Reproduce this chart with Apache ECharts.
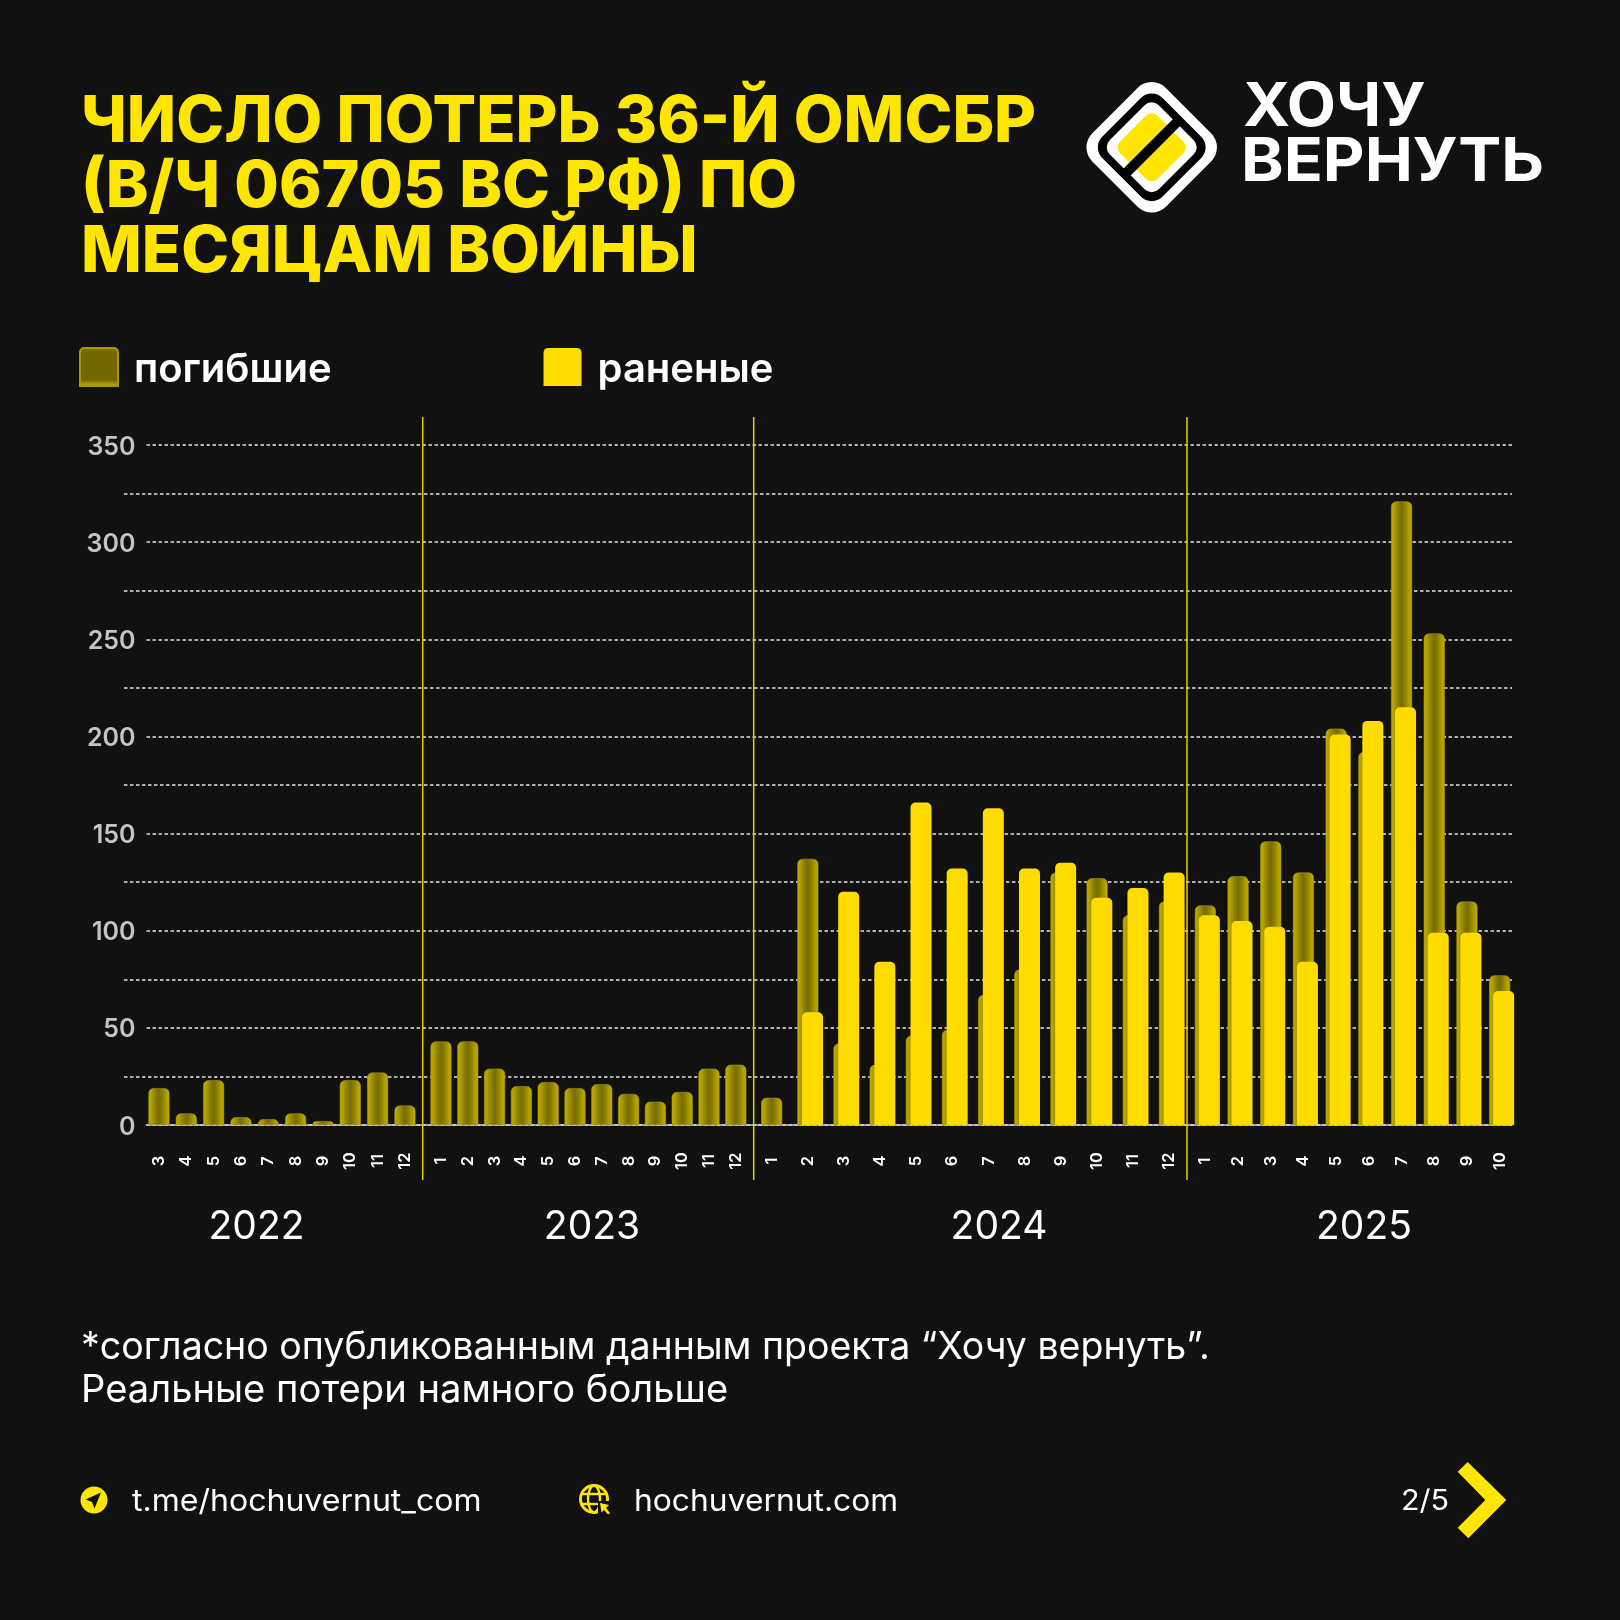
<!DOCTYPE html>
<html lang="ru">
<head>
<meta charset="utf-8">
<style>html,body{margin:0;padding:0;background:#111111}#c{width:1620px;height:1620px}</style>
<script src="https://cdn.jsdelivr.net/npm/echarts@6/dist/echarts.min.js"></script>
</head>
<body>
<div id="c"></div>
<script>
const months2022 = ['3','4','5','6','7','8','9','10','11','12'];
const months2023 = ['1','2','3','4','5','6','7','8','9','10','11','12'];
const months2024 = ['1','2','3','4','5','6','7','8','9','10','11','12'];
const months2025 = ['1','2','3','4','5','6','7','8','9','10'];

const killed2022 = [19,6,23,4,3,6,2,23,27,10];
const killed2023 = [43,43,29,20,22,19,21,16,12,17,29,31];
const killed2024 = [14,137,42,31,46,49,67,80,130,127,108,115];
const killed2025 = [113,128,146,130,204,192,321,253,115,77];

const wounded2024 = [null,58,120,84,166,132,163,132,135,117,122,130];
const wounded2025 = [108,105,102,84,201,208,215,99,99,69];

const yearLabels = ['2022','2023','2024','2025'];
const seriesNames = ['погибшие','раненые'];

const FONT = 'Inter';
const BG = '#111111';
const YEL = '#FFDB00';
const PLOT_TOP = 445, PLOT_H = 680;

const darkFill = {type:'linear',x:0,y:0,x2:1,y2:0,colorStops:[
  {offset:0,color:'#c2b000'},{offset:.16,color:'#ad9c00'},{offset:.34,color:'#8c7f00'},
  {offset:.5,color:'#786c00'},{offset:.66,color:'#8c7f00'},{offset:.84,color:'#ad9c00'},{offset:1,color:'#c2b000'}]};
const swatchFill = {type:'linear',x:0,y:0,x2:0,y2:1,colorStops:[
  {offset:0,color:'#8a7c00'},{offset:.12,color:'#736700'},{offset:.82,color:'#736700'},{offset:.92,color:'#a89800'},{offset:1,color:'#cdb800'}]};

// one panel per year: the months are spaced differently in each year
const panels = [
  {left:145.3,width:273.3,cats:months2022,killed:killed2022},
  {left:427.6,width:321.6,cats:months2023,killed:killed2023},
  {left:753.6,width:433.9,cats:months2024,killed:killed2024,wounded:wounded2024,shift:4.7},
  {left:1189, width:327,  cats:months2025,killed:killed2025,wounded:wounded2025,shift:4}
];

const grids=[],xAxes=[],yAxes=[],series=[];
function addGrid(left,width,cats,xExtra,yExtra){
  grids.push({left,width,top:PLOT_TOP,height:PLOT_H,containLabel:false});
  const i=grids.length-1;
  xAxes.push(Object.assign({type:'category',gridIndex:i,data:cats,axisTick:{show:false},axisLine:{show:false},axisLabel:{show:false},splitLine:{show:false}},xExtra||{}));
  yAxes.push(Object.assign({type:'value',gridIndex:i,min:0,max:350,interval:50,axisLine:{show:false},axisTick:{show:false},axisLabel:{show:false},splitLine:{show:false}},yExtra||{}));
  return i;
}
const lineStyle={color:'#e2e2e2',width:1.5,type:[3.5,2.5]};
// labelled lines with the value axis
addGrid(146.5,1365.5,[''],
 {axisLine:{show:true,onZero:true,lineStyle:{color:'#d0d0d0',width:1.5}}},
 {axisLabel:{show:true,margin:11,formatter:'{a|{value}}',
    rich:{a:{color:'#c4c4c4',fontFamily:FONT,fontSize:25,fontWeight:600,padding:[4,0,0,0]}}},
  splitLine:{show:true,lineStyle}});
// unlabelled in-between lines start further left
addGrid(124,1388,[''],null,
 {interval:25,axisTick:{show:false,customValues:[25,75,125,175,225,275,325]},
  splitLine:{show:true,lineStyle}});

panels.forEach(p=>{
  const i=addGrid(p.left,p.width,p.cats,{axisLabel:{show:true,interval:0,rotate:90,align:'center',verticalAlign:'middle',margin:36,color:'#ffffff',fontFamily:FONT,fontSize:16.5,fontWeight:600}});
  series.push({name:seriesNames[0],type:'bar',xAxisIndex:i,yAxisIndex:i,data:p.killed,barWidth:21,z:3,silent:true,
    itemStyle:{color:darkFill,borderRadius:[5,5,0,0],borderColor:'#a89800',borderWidth:.6}});
  if(p.wounded){
    const j=addGrid(p.left+p.shift,p.width,p.cats);
    series.push({name:seriesNames[1],type:'bar',xAxisIndex:j,yAxisIndex:j,data:p.wounded,barWidth:21,z:4,silent:true,
      itemStyle:{color:YEL,borderRadius:[5,5,0,0]}});
  }
});

function text(x,y,t,size,opt,sx){
  return {type:'text',x,y,z:10,silent:true,scaleX:sx||1,originX:0,originY:0,style:Object.assign({text:t,fill:'#fff',fontFamily:FONT,fontSize:size,fontWeight:400,textAlign:'left',textVerticalAlign:'middle'},opt||{})};
}
function vline(x){return {type:'line',z:6,silent:true,shape:{x1:x,y1:417,x2:x,y2:1180},style:{stroke:'#e6cf00',lineWidth:1.5}};}
function diamond(s,r,fill){return {type:'rect',x:1151.7,y:147.3,originX:0,originY:0,rotation:Math.PI/4,silent:true,z:8,shape:{x:-s/2,y:-s/2,width:s,height:s,r},style:{fill}};}

const graphics=[
  vline(422.7),vline(753.7),vline(1187),
  text(256.5,1227,yearLabels[0],39,{textAlign:'center'}),
  text(592,1227,yearLabels[1],39,{textAlign:'center'}),
  text(999,1227,yearLabels[2],39,{textAlign:'center'}),
  text(1364,1227,yearLabels[3],39,{textAlign:'center'}),
  diamond(104,20,'#ffffff'),diamond(85,15,'#000000'),diamond(69.5,10,'#ffffff'),diamond(53,8,'#FFE600'),
  {type:'rect',x:1151.7,y:147.3,rotation:-Math.PI/4,silent:true,z:9,shape:{x:-5,y:-38,width:10,height:76},style:{fill:'#000000'}},
  text(1243,108,'ХОЧУ',60,{fontWeight:700},1.065),
  text(1241,163,'ВЕРНУТЬ',60,{fontWeight:700},1.075),
  text(81,1348,'*согласно опубликованным данным проекта “Хочу вернуть”.',38,null,.987),
  text(81,1391,'Реальные потери намного больше',38,null,1.004),
  {type:'circle',silent:true,z:8,shape:{cx:94,cy:1500,r:13.5},style:{fill:'#FFE600'}},
  {type:'polygon',silent:true,z:9,shape:{points:[[101,1492.5],[85.5,1499.5],[92,1502],[94.5,1508.5]]},style:{fill:BG}},
  text(132,1502,'t.me/hochuvernut_com',30,null,1.068),
  {type:'circle',silent:true,z:8,shape:{cx:594,cy:1499,r:13.5},style:{fill:'none',stroke:'#FFE600',lineWidth:3}},
  {type:'ellipse',silent:true,z:8,shape:{cx:594,cy:1499,rx:6,ry:13.5},style:{fill:'none',stroke:'#FFE600',lineWidth:2.4}},
  {type:'line',silent:true,z:8,shape:{x1:581,y1:1494,x2:607,y2:1494},style:{stroke:'#FFE600',lineWidth:2.4}},
  {type:'line',silent:true,z:8,shape:{x1:581,y1:1504,x2:607,y2:1504},style:{stroke:'#FFE600',lineWidth:2.4}},
  {type:'rect',silent:true,z:9,shape:{x:598,y:1501,width:12,height:15},style:{fill:BG}},
  {type:'polygon',silent:true,z:10,shape:{points:[[600,1503],[609,1505],[606,1508],[610,1513],[608,1514.5],[604,1510],[601.5,1512.5]]},style:{fill:'#FFE600'}},
  text(634,1502,'hochuvernut.com',30,null,1.06),
  text(1401,1502,'2/5',28,null,1.09),
  {type:'polygon',silent:true,z:8,shape:{points:[[1457.7,1471.7],[1467.7,1462],[1506.3,1500],[1468.3,1538.3],[1457.7,1527.7],[1485.3,1500]]},style:{fill:'#FFE600'}}
];

const swatch='path://M5,0H34Q39,0 39,5V39H0V5Q0,0 5,0Z';
const chart=echarts.init(document.getElementById('c'),null,{renderer:'canvas',width:1620,height:1620});
chart.setOption({
  animation:false,
  backgroundColor:BG,
  textStyle:{fontFamily:FONT},
  title:{text:'ЧИСЛО ПОТЕРЬ 36-Й ОМСБР\n(В/Ч 06705 ВС РФ) ПО\nМЕСЯЦАМ ВОЙНЫ',left:76,top:85.5,
    textStyle:{color:'#FFE600',fontFamily:FONT,fontSize:64.5,fontWeight:800,lineHeight:65}},
  legend:{left:74,top:342,orient:'horizontal',itemWidth:38,itemHeight:39,itemGap:212,selectedMode:false,
    formatter:'{a|{name}}',
    data:[
      {name:seriesNames[0],icon:swatch,itemStyle:{color:swatchFill}},
      {name:seriesNames[1],icon:swatch,itemStyle:{color:YEL}}],
    textStyle:{padding:[0,0,0,11],rich:{a:{color:'#fff',fontFamily:FONT,fontSize:40,fontWeight:600,padding:[5,0,0,0]}}}},
  grid:grids,xAxis:xAxes,yAxis:yAxes,series,
  graphic:{elements:graphics}
});
</script>
</body>
</html>
